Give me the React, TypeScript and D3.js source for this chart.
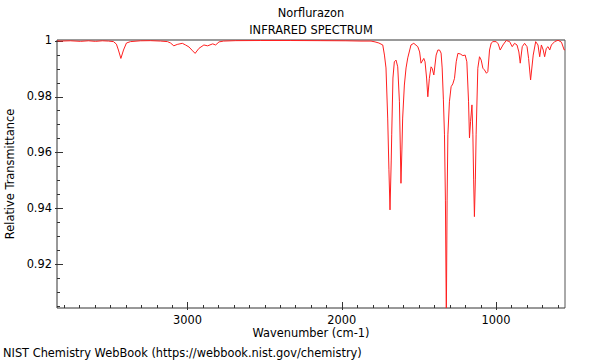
import React, { useEffect, useRef } from "react";
import * as d3 from "d3";

// Wavenumber (cm-1) and relative transmittance
const wavenumbers = [
  3843, 3823, 3758, 3693, 3641, 3596, 3551, 3512, 3479, 3460, 3447, 3431, 3414, 3395, 3369,
  3304, 3239, 3174, 3129, 3109, 3088, 3066, 3033, 3012, 2990, 2966, 2950, 2925, 2893, 2869,
  2836, 2817, 2795, 2765, 2687, 2525, 2330, 2135, 1973, 1875, 1810, 1784, 1759, 1734, 1723,
  1713, 1702, 1694, 1687, 1679, 1676, 1668, 1659, 1648, 1637, 1626, 1620, 1616, 1610, 1605,
  1594, 1583, 1572, 1551, 1533, 1507, 1495, 1486, 1468, 1460, 1450, 1442, 1432, 1421, 1414,
  1403, 1388, 1377, 1366, 1356, 1349, 1341, 1334, 1328, 1322, 1317, 1312, 1302, 1291, 1280,
  1269, 1258, 1247, 1232, 1215, 1200, 1189, 1178, 1172, 1165, 1156, 1150, 1145, 1140, 1134,
  1129, 1118, 1107, 1096, 1085, 1075, 1062, 1053, 1042, 1031, 1020, 999, 986, 973, 955,
  934, 912, 895, 880, 864, 852, 843, 830, 815, 799, 789, 776, 759, 743, 728,
  717, 706, 694, 685, 674, 663, 652, 641, 620, 598, 576, 558, 543,
];
const transmittance = [
  0.9999, 0.9998, 0.9999, 0.9997, 0.9999, 0.9997, 0.9999, 0.9998, 0.9996, 0.9987, 0.9966, 0.9936, 0.9966, 0.9991, 0.9996,
  0.9999, 0.99995, 0.9998, 0.9996, 0.9991, 0.9981, 0.9986, 0.999, 0.9984, 0.9977, 0.9963, 0.9954, 0.9972, 0.9984, 0.9981,
  0.9988, 0.9984, 0.9995, 0.9998, 0.99995, 1.0, 1.0, 0.99995, 0.9999, 0.9998, 0.9998, 0.9995, 0.9991, 0.9984, 0.9948,
  0.9902, 0.9723, 0.9538, 0.9395, 0.9573, 0.9663, 0.9866, 0.9924, 0.993, 0.9906, 0.9781, 0.9609, 0.949, 0.9609, 0.9723,
  0.9841, 0.9902, 0.9938, 0.9984, 0.999, 0.9978, 0.9959, 0.9919, 0.9936, 0.9924, 0.9866, 0.9799, 0.9865, 0.9906, 0.9901,
  0.9877, 0.9948, 0.9966, 0.9966, 0.9955, 0.9902, 0.9788, 0.9663, 0.943, 0.9002, 0.943, 0.9663, 0.9781, 0.9835, 0.9845,
  0.9865, 0.9924, 0.9954, 0.9952, 0.9946, 0.9948, 0.9924, 0.9781, 0.9652, 0.971, 0.977, 0.9663, 0.9502, 0.9371, 0.9502,
  0.9663, 0.9901, 0.9942, 0.993, 0.9901, 0.9895, 0.9883, 0.9889, 0.9966, 0.9991, 0.9996, 0.9996, 0.9988, 0.9966, 0.9984,
  1.0, 0.9996, 0.9978, 0.999, 0.9984, 0.9959, 0.9919, 0.9978, 0.999, 0.9978, 0.9936, 0.9859, 0.9948, 0.9996, 0.9984,
  0.9942, 0.9984, 0.9966, 0.9942, 0.9972, 0.9978, 0.9966, 0.9984, 0.9996, 1.0001, 0.9994, 0.9966, 0.9972,
];

const xMajorTicks = [3000, 2000, 1000];
const yMajorTicks = [1, 0.98, 0.96, 0.94, 0.92];

const titleLines = ["Norflurazon", "INFRARED SPECTRUM"];
const xLabel = "Wavenumber (cm-1)";
const yLabel = "Relative Transmittance";
const footer = "NIST Chemistry WebBook (https://webbook.nist.gov/chemistry)";

const W = 600;
const H = 360;
const plot = { left: 57, right: 565, top: 40, bottom: 308 };
const FONT = "DejaVu Sans, sans-serif";
const FS = 11.4;

export default function App() {
  const ref = useRef<SVGSVGElement | null>(null);

  useEffect(() => {
    const svg = d3.select(ref.current);
    svg.selectAll("*").remove();

    const x = d3.scaleLinear().domain([3845, 553]).range([plot.left, plot.right]);
    const y = d3.scaleLinear().domain([1.00018, 0.90446]).range([plot.top, plot.bottom]);

    svg.append("rect").attr("width", W).attr("height", H).attr("fill", "#fff");

    svg.append("defs").append("clipPath").attr("id", "clip")
      .append("rect")
      .attr("x", plot.left).attr("y", plot.top)
      .attr("width", plot.right - plot.left).attr("height", plot.bottom - plot.top);

    // frame
    svg.append("line").attr("x1", plot.left).attr("x2", plot.right).attr("y1", plot.top).attr("y2", plot.top)
      .attr("stroke", "#999").attr("stroke-width", 2);
    svg.append("line").attr("x1", plot.right).attr("x2", plot.right).attr("y1", plot.top).attr("y2", plot.bottom)
      .attr("stroke", "#555").attr("stroke-width", 1);
    svg.append("line").attr("x1", plot.left).attr("x2", plot.left).attr("y1", plot.top).attr("y2", plot.bottom)
      .attr("stroke", "#333").attr("stroke-width", 1);
    svg.append("line").attr("x1", plot.left).attr("x2", plot.right).attr("y1", plot.bottom).attr("y2", plot.bottom)
      .attr("stroke", "#333").attr("stroke-width", 1);

    // x ticks
    const xMinor = d3.range(600, 3801, 100);
    const gx = svg.append("g");
    xMinor.forEach((v) => {
      const major = xMajorTicks.includes(v);
      const px = Math.round(x(v)) + 0.5;
      gx.append("line").attr("x1", px).attr("x2", px)
        .attr("y1", plot.bottom - (major ? 6 : 3)).attr("y2", plot.bottom + (major ? 2 : 0))
        .attr("stroke", "#333").attr("stroke-width", 1);
    });
    xMajorTicks.forEach((v) => {
      gx.append("text").attr("x", x(v)).attr("y", plot.bottom + 15.5)
        .attr("text-anchor", "middle").attr("font-family", FONT).attr("font-size", FS)
        .attr("fill", "#000").text(String(v));
    });

    // y ticks
    const yMinor = d3.range(0, 20).map((i) => 1 - i * 0.005).filter((v) => v >= 0.905);
    const gy = svg.append("g");
    yMinor.forEach((v) => {
      const major = yMajorTicks.some((t) => Math.abs(t - v) < 1e-6);
      const py = Math.round(y(v)) + 0.5;
      gy.append("line").attr("y1", py).attr("y2", py)
        .attr("x1", plot.left - (major ? 2 : 0)).attr("x2", plot.left + (major ? 6 : 3))
        .attr("stroke", "#333").attr("stroke-width", 1);
    });
    yMajorTicks.forEach((v) => {
      gy.append("text").attr("x", plot.left - 5).attr("y", y(v)).attr("dy", "0.35em")
        .attr("text-anchor", "end").attr("font-family", FONT).attr("font-size", FS)
        .attr("fill", "#000").text(String(v));
    });

    // spectrum
    const data = wavenumbers.map((w, i) => [w, transmittance[i]] as [number, number]);
    const line = d3.line<[number, number]>().x((d) => x(d[0])).y((d) => y(d[1])).curve(d3.curveLinear);
    svg.append("path").datum(data).attr("clip-path", "url(#clip)")
      .attr("d", line).attr("fill", "none").attr("stroke", "#ff2020").attr("stroke-width", 1);

    // titles & labels
    svg.append("text").attr("x", 311).attr("y", 17).attr("text-anchor", "middle")
      .attr("font-family", FONT).attr("font-size", FS).text(titleLines[0]);
    svg.append("text").attr("x", 311).attr("y", 34).attr("text-anchor", "middle")
      .attr("font-family", FONT).attr("font-size", FS).text(titleLines[1]);
    svg.append("text").attr("x", 311).attr("y", 337).attr("text-anchor", "middle")
      .attr("font-family", FONT).attr("font-size", FS).text(xLabel);
    svg.append("text").attr("transform", `translate(14,174) rotate(-90)`).attr("text-anchor", "middle")
      .attr("font-family", FONT).attr("font-size", FS).text(yLabel);
    svg.append("text").attr("x", 3).attr("y", 357).attr("text-anchor", "start")
      .attr("font-family", FONT).attr("font-size", FS).text(footer);
  }, []);

  return (
    <div style={{ position: "fixed", left: 0, top: 0 }}>
      <svg ref={ref} width={W} height={H} style={{ display: "block" }} />
    </div>
  );
}
